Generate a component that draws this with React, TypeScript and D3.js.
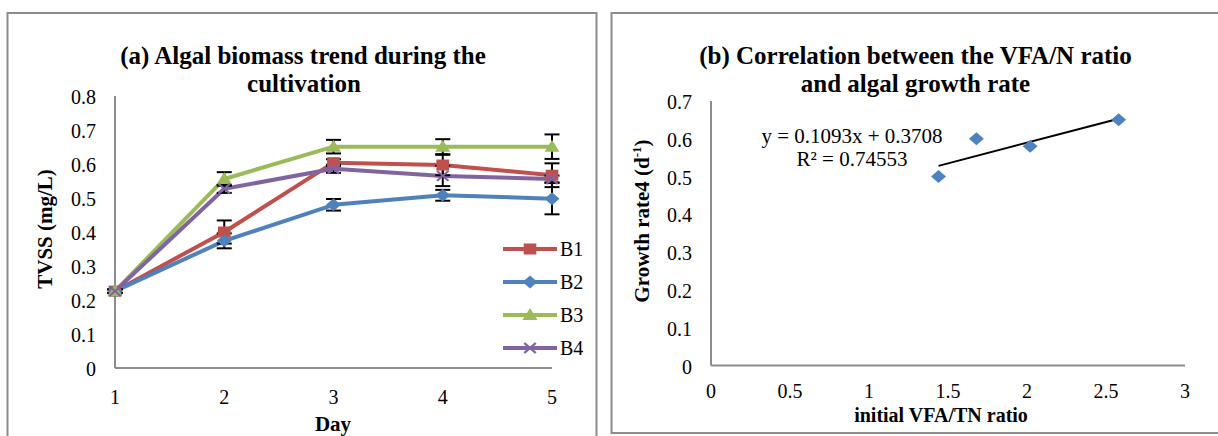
import React from "react";
import * as d3 from "d3";

// ---- Panel (a): algal biomass (TVSS, mg/L) per day ----
const days = [1, 2, 3, 4, 5];
const seriesNames = ["B1", "B2", "B3", "B4"];
const b1Values = [0.226, 0.4, 0.604, 0.597, 0.567];
const b2Values = [0.226, 0.374, 0.48, 0.508, 0.498];
const b3Values = [0.226, 0.556, 0.651, 0.651, 0.651];
const b4Values = [0.226, 0.527, 0.586, 0.565, 0.556];
const b1Errors = [0.006, 0.034, 0.01, 0.03, 0.035];
const b2Errors = [0.005, 0.022, 0.017, 0.016, 0.046];
const b3Errors = [0.005, 0.02, 0.02, 0.022, 0.036];
const b4Errors = [0.005, 0.012, 0.012, 0.03, 0.01];
const tvssTicks = [0, 0.1, 0.2, 0.3, 0.4, 0.5, 0.6, 0.7, 0.8];

// ---- Panel (b): growth rate vs initial VFA/TN ratio ----
const vfaTnRatio = [1.44, 1.68, 2.02, 2.58];
const growthRate = [0.5, 0.6, 0.58, 0.65];
const trendSlope = 0.1093;
const trendIntercept = 0.3708;
const rSquared = 0.74553;
const ratioTicks = [0, 0.5, 1, 1.5, 2, 2.5, 3];
const rateTicks = [0, 0.1, 0.2, 0.3, 0.4, 0.5, 0.6, 0.7];

const FONT = "'Liberation Serif','Times New Roman',serif";
const MX = 1.15; // markers are slightly wider than tall
const AXIS_GRAY = "#8c8c8c";

const colors = ["#c0504d", "#4f81bd", "#9bbb59", "#8064a2"];
const markerKinds = ["square", "diamond", "triangle", "cross"];

type TProps = {
  x: number;
  y: number;
  size: number;
  bold?: boolean;
  anchor?: "start" | "middle" | "end";
  rotate?: number;
  children: React.ReactNode;
};

function SText({ x, y, size, bold, anchor = "start", rotate, children }: TProps) {
  const t = `translate(${x},${y})` + (rotate ? ` rotate(${rotate})` : "");
  return (
    <text
      transform={t}
      fontFamily={FONT}
      fontSize={size}
      fontWeight={bold ? "bold" : "normal"}
      textAnchor={anchor}
      fill="#000"
    >
      {children}
    </text>
  );
}

function Marker({ kind, x, y, color }: { kind: string; x: number; y: number; color: string }) {
  const t = `translate(${x},${y}) scale(${MX},1)`;
  if (kind === "square") {
    return <rect transform={t} x={-5.5} y={-5.5} width={11} height={11} fill={color} />;
  }
  if (kind === "diamond") {
    return <path transform={t} d="M0,-6.5L6.5,0L0,6.5L-6.5,0Z" fill={color} />;
  }
  if (kind === "triangle") {
    return <path transform={t} d="M0,-7L6.5,5L-6.5,5Z" fill={color} />;
  }
  return (
    <g transform={t} stroke={color} strokeWidth={2}>
      <line x1={-5} y1={-5} x2={5} y2={5} />
      <line x1={-5} y1={5} x2={5} y2={-5} />
    </g>
  );
}

export default function App() {
  // panel (a) scales
  const xA = d3.scaleLinear().domain([1, 5]).range([115, 552]);
  const yA = d3.scaleLinear().domain([0, 0.8]).range([368, 96]);
  // panel (b) scales
  const xB = d3.scaleLinear().domain([0, 3]).range([711, 1185]);
  const yB = d3.scaleLinear().domain([0, 0.7]).range([365.5, 100.9]);

  const values = [b1Values, b2Values, b3Values, b4Values];
  const errors = [b1Errors, b2Errors, b3Errors, b4Errors];

  const line = d3
    .line<number>()
    .x((_, i) => xA(days[i]))
    .y((v) => yA(v));

  const trendX = d3.extent(vfaTnRatio) as [number, number];
  const trend = (x: number) => trendSlope * x + trendIntercept;

  const legendY = [249, 282, 315, 348];

  return (
    <div style={{ position: "absolute", left: 0, top: 0 }}>
      <svg width={1218} height={436} style={{ display: "block", background: "#fff" }}>
        {/* panel frames */}
        <rect x={7.5} y={13} width={589} height={440} fill="#fff" stroke={AXIS_GRAY} strokeWidth={2} />
        <rect x={611.5} y={13} width={620} height={420} fill="#fff" stroke={AXIS_GRAY} strokeWidth={2} />

        {/* ===== Panel (a) ===== */}
        <SText x={303} y={64} size={25} bold anchor="middle">
          (a) Algal biomass trend during the
        </SText>
        <SText x={304} y={92} size={25} bold anchor="middle">
          cultivation
        </SText>

        <line x1={xA(1)} x2={xA(1)} y1={yA(0.8)} y2={yA(0)} stroke={AXIS_GRAY} strokeWidth={2} />
        <line x1={xA(1)} x2={xA(5)} y1={yA(0)} y2={yA(0)} stroke={AXIS_GRAY} strokeWidth={2} />

        {tvssTicks.map((t) => (
          <SText key={t} x={96} y={yA(t) + 7.5} size={20} anchor="end">
            {String(t)}
          </SText>
        ))}
        {days.map((d) => (
          <SText key={d} x={xA(d)} y={404} size={20} anchor="middle">
            {String(d)}
          </SText>
        ))}
        <SText x={333} y={431} size={21} bold anchor="middle">
          Day
        </SText>
        <SText x={52} y={229} size={21} bold anchor="middle" rotate={-90}>
          TVSS (mg/L)
        </SText>

        {/* series lines */}
        {values.map((vals, s) => (
          <path
            key={seriesNames[s]}
            d={line(vals) || ""}
            fill="none"
            stroke={colors[s]}
            strokeWidth={4}
            strokeLinejoin="round"
          />
        ))}

        {/* error bars */}
        {values.map((vals, s) =>
          vals.map((v, i) => {
            const x = xA(days[i]);
            const top = yA(v + errors[s][i]);
            const bot = yA(v - errors[s][i]);
            return (
              <g key={`e${s}-${i}`} stroke="#000" strokeWidth={2}>
                <line x1={x} x2={x} y1={top} y2={bot} />
                <line x1={x - 7.5} x2={x + 7.5} y1={top} y2={top} />
                <line x1={x - 7.5} x2={x + 7.5} y1={bot} y2={bot} />
              </g>
            );
          })
        )}

        {/* markers */}
        {values.map((vals, s) =>
          vals.map((v, i) => (
            <Marker key={`m${s}-${i}`} kind={markerKinds[s]} x={xA(days[i])} y={yA(v)} color={colors[s]} />
          ))
        )}

        {/* legend */}
        {seriesNames.map((name, s) => (
          <g key={`lg${name}`}>
            <line x1={503} x2={557} y1={legendY[s]} y2={legendY[s]} stroke={colors[s]} strokeWidth={4} />
            <Marker kind={markerKinds[s]} x={530} y={legendY[s]} color={colors[s]} />
            <SText x={560} y={legendY[s] + 7} size={20}>
              {name}
            </SText>
          </g>
        ))}

        {/* ===== Panel (b) ===== */}
        <SText x={915.5} y={64} size={25} bold anchor="middle">
          (b) Correlation between the VFA/N ratio
        </SText>
        <SText x={915.5} y={92} size={25} bold anchor="middle">
          and algal growth rate
        </SText>

        <line x1={xB(0)} x2={xB(0)} y1={yB(0.7)} y2={yB(0)} stroke={AXIS_GRAY} strokeWidth={2} />
        <line x1={xB(0)} x2={xB(3)} y1={yB(0)} y2={yB(0)} stroke={AXIS_GRAY} strokeWidth={2} />

        {rateTicks.map((t) => (
          <SText key={t} x={692} y={yB(t) + 8} size={20} anchor="end">
            {String(t)}
          </SText>
        ))}
        {ratioTicks.map((t) => (
          <SText key={t} x={xB(t)} y={398} size={20} anchor="middle">
            {String(t)}
          </SText>
        ))}
        <SText x={941} y={422} size={20} bold anchor="middle">
          initial VFA/TN ratio
        </SText>
        <g transform={`translate(649,221) rotate(-90)`}>
          <text fontFamily={FONT} fontSize={21} fontWeight="bold" textAnchor="middle" fill="#000">
            Growth rate4 (d
            <tspan dy={-8} fontSize={13}>
              -1
            </tspan>
            <tspan dy={8}>)</tspan>
          </text>
        </g>

        {/* trend line */}
        <line
          x1={xB(trendX[0])}
          y1={yB(trend(trendX[0]))}
          x2={xB(trendX[1])}
          y2={yB(trend(trendX[1]))}
          stroke="#000"
          strokeWidth={2}
        />
        {vfaTnRatio.map((x, i) => (
          <Marker key={`p${i}`} kind="diamond" x={xB(x)} y={yB(growthRate[i])} color="#4f81bd" />
        ))}

        <SText x={852} y={143} size={21} anchor="middle">
          {`y = ${trendSlope}x + ${trendIntercept}`}
        </SText>
        <SText x={852} y={166} size={21} anchor="middle">
          {`R² = ${rSquared}`}
        </SText>
      </svg>
    </div>
  );
}
